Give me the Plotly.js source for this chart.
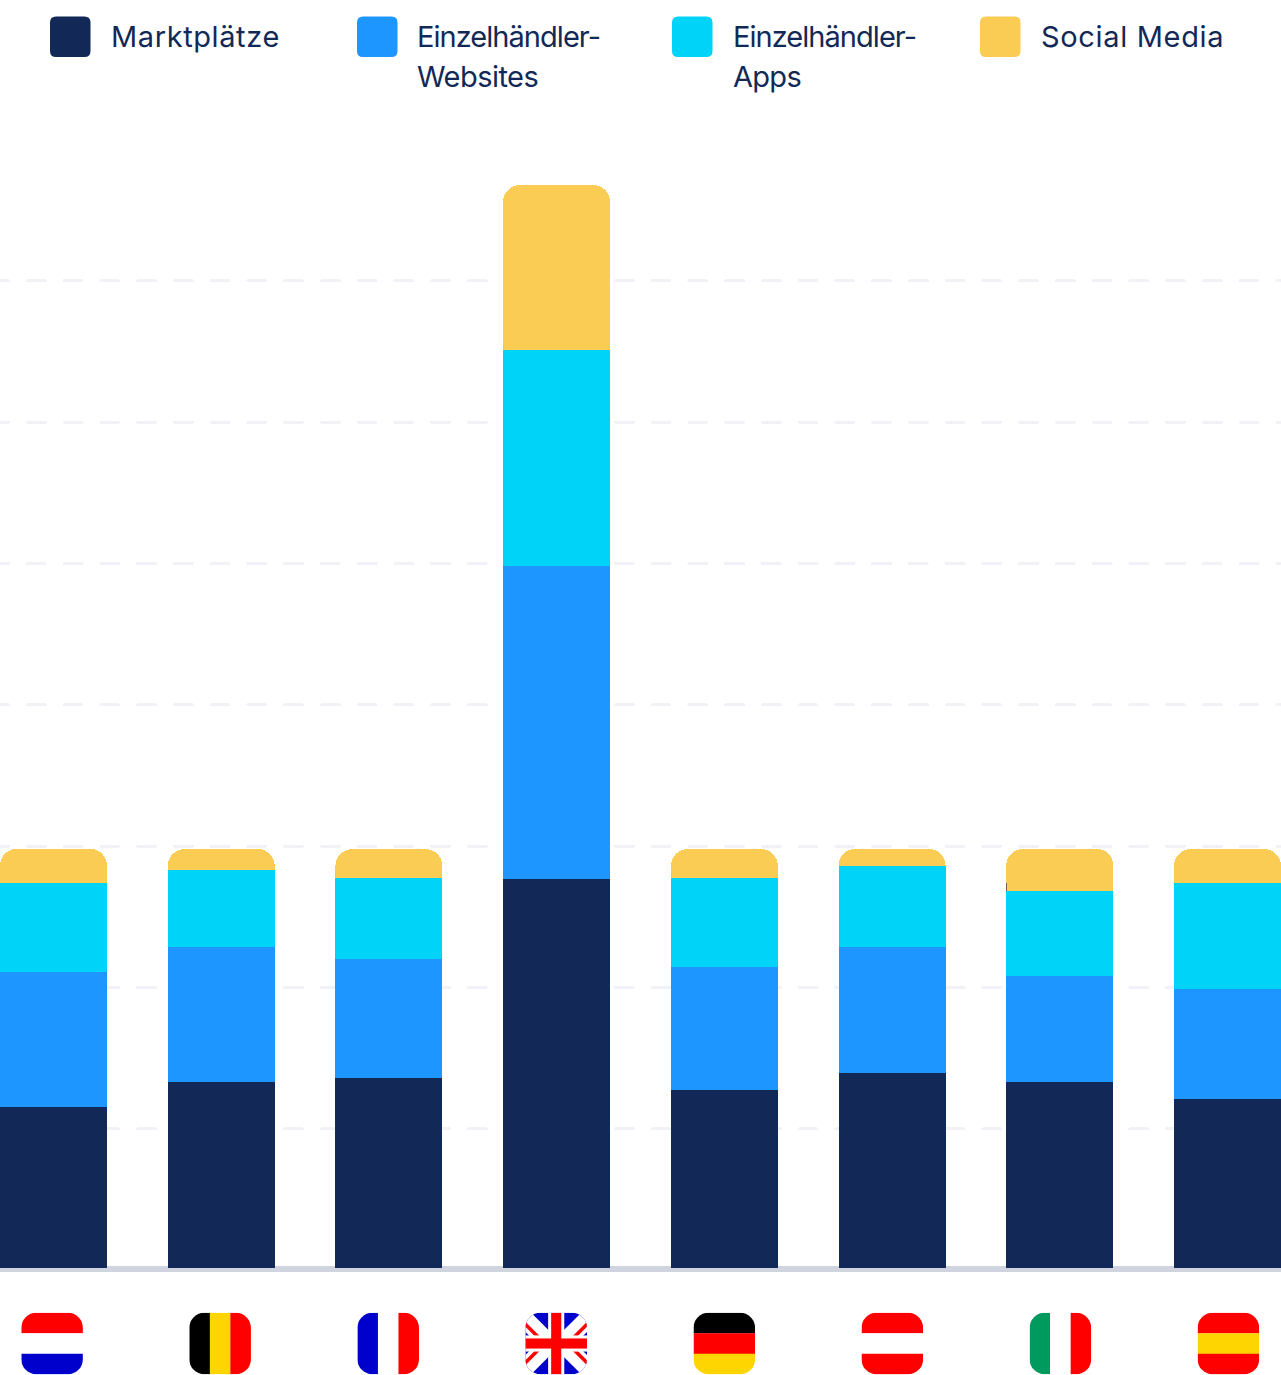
<!DOCTYPE html>
<html lang="de">
<head>
<meta charset="utf-8">
<title>Marktplätze, Einzelhändler-Websites, Einzelhändler-Apps und Social Media</title>
<script src="https://cdn.plot.ly/plotly-3.0.1.min.js"></script>
<style>
  html, body { margin: 0; padding: 0; background: #ffffff; }
  #chart { width: 1281px; height: 1375px; }
  .gridlayer path { stroke-linecap: round; }
</style>
</head>
<body>
<div id="chart"></div>
<script>
// Countries, left to right
const countries = ['Niederlande', 'Belgien', 'Frankreich', 'Vereinigtes Königreich',
                   'Deutschland', 'Österreich', 'Italien', 'Spanien'];

// Stacked channel values per country
const marktplaetze    = [5.70, 6.58, 6.72, 13.76, 6.30, 6.90, 6.58, 5.98];
const websites        = [4.78, 4.78, 4.21, 11.07, 4.35, 4.46, 3.75, 3.89];
const apps            = [3.15, 2.72, 2.85,  7.64, 3.13, 2.87, 3.01, 3.75];
const socialMedia     = [1.20, 0.74, 1.04,  5.84, 1.04, 0.60, 1.49, 1.20];

const seriesValues = [marktplaetze, websites, apps, socialMedia];
const seriesNames  = ['Marktplätze', 'Einzelhändler-Websites', 'Einzelhändler-Apps', 'Social Media'];
const seriesColors = ['#122958', '#1e96ff', '#00d3f8', '#facc53'];

// Legend labels split over lines, with swatch and text positions in page pixels
const legendLines    = [['Marktplätze'], ['Einzelhändler-', 'Websites'], ['Einzelhändler-', 'Apps'], ['Social Media']];
const legendTracking = [[0.6], [-0.96, -0.54], [-0.96, -0.7], [0.67]];
const legendSwatchX  = [50, 357, 672, 980];
const legendTextX    = [111, 417, 733, 1041];

// Horizontal guide lines
const gridValues = [4.92, 9.92, 14.92, 19.92, 24.92, 29.92, 34.92];

// Flag stripes: direction and colours, with the union flag drawn separately
const RED = '#ff0000', BLUE = '#0000cc', GOLD = '#ffd500', WHITE = '#ffffff', BLACK = '#000000', GREEN = '#009a5e';
const flagStripes = [
  ['h', RED, WHITE, BLUE],
  ['v', BLACK, GOLD, RED],
  ['v', BLUE, WHITE, RED],
  null,
  ['h', BLACK, RED, GOLD],
  ['h', RED, WHITE, RED],
  ['v', GREEN, WHITE, RED],
  ['h', RED, GOLD, RED]
];
const flagLeft = [21.3, 189.3, 357.4, 525.4, 693.5, 861.5, 1029.6, 1197.6];

// Page geometry
const PAGE_W = 1281, PAGE_H = 1375, BASELINE = 1268, PX_PER_UNIT = 28.27;
const FLAG_SIZE = 61.6, FLAG_TOP = 1312.7;

const paperX = px => px / PAGE_W;
const paperY = py => (BASELINE - py) / BASELINE;

function roundedPath(x, y, w, h, r) {
  const X = v => paperX(v), Y = v => paperY(v);
  return `M${X(x + r)},${Y(y)} L${X(x + w - r)},${Y(y)} Q${X(x + w)},${Y(y)} ${X(x + w)},${Y(y + r)} ` +
         `L${X(x + w)},${Y(y + h - r)} Q${X(x + w)},${Y(y + h)} ${X(x + w - r)},${Y(y + h)} ` +
         `L${X(x + r)},${Y(y + h)} Q${X(x)},${Y(y + h)} ${X(x)},${Y(y + h - r)} ` +
         `L${X(x)},${Y(y + r)} Q${X(x)},${Y(y)} ${X(x + r)},${Y(y)} Z`;
}

function unionFlagMarkup() {
  const quarter =
    `<rect width="30.5" height="30.5" fill="${BLUE}"/>` +
    `<polygon points="5.7,0 30.5,24.8 30.5,30.5 11.5,30.5 0,19 0,0" fill="${WHITE}"/>` +
    `<polygon points="0,9 21.5,30.5 16.5,30.5 0,14" fill="${RED}"/>`;
  const mirrored = ['translate(0,0)', 'translate(61,0) scale(-1,1)', 'translate(0,61) scale(1,-1)', 'translate(61,61) scale(-1,-1)']
    .map(t => `<g transform="${t}">${quarter}</g>`).join('');
  return mirrored +
    `<rect x="22.5" width="16" height="61" fill="${WHITE}"/><rect y="22.5" width="61" height="16" fill="${WHITE}"/>` +
    `<rect x="25.5" width="10" height="61" fill="${RED}"/><rect y="25.5" width="61" height="10" fill="${RED}"/>`;
}

function flagImage(spec) {
  const third = 61 / 3;
  const body = spec
    ? spec.slice(1).map((c, i) => spec[0] === 'h'
        ? `<rect y="${i * third}" width="61" height="${third + 0.2}" fill="${c}"/>`
        : `<rect x="${i * third}" width="${third + 0.2}" height="61" fill="${c}"/>`).join('')
    : unionFlagMarkup();
  const svg = `<svg xmlns="http://www.w3.org/2000/svg" width="61" height="61" viewBox="0 0 61 61">` +
    `<defs><clipPath id="c"><rect width="61" height="61" rx="15" ry="15"/></clipPath></defs>` +
    `<g clip-path="url(#c)">${body}</g></svg>`;
  return 'data:image/svg+xml;charset=utf-8,' + encodeURIComponent(svg);
}

const traces = seriesValues.map((values, i) => ({
  type: 'bar',
  name: seriesNames[i],
  x: countries,
  y: values,
  marker: { color: seriesColors[i], line: { width: 0 } },
  hovertemplate: '%{x}<br>' + seriesNames[i] + ': %{y}<extra></extra>'
}));

const shapes = [
  // Axis rule under the bars
  { type: 'rect', layer: 'below', xref: 'paper', yref: 'paper',
    x0: 0, x1: 1, y0: paperY(1272), y1: paperY(1266),
    fillcolor: '#cfd4de', line: { width: 0 } },
  // Thin dark edge on the Italian bar
  { type: 'rect', layer: 'above', xref: 'paper', yref: 'paper',
    x0: paperX(1006), x1: paperX(1007), y0: paperY(891), y1: paperY(883),
    fillcolor: '#75633f', line: { width: 0 } }
];
legendSwatchX.forEach((x, i) => shapes.push({
  type: 'path', xref: 'paper', yref: 'paper',
  path: roundedPath(x, 16.5, 40.5, 40.5, 6),
  fillcolor: seriesColors[i], line: { width: 0 }
}));

const annotations = [];
legendLines.forEach((lines, i) => lines.forEach((text, j) => annotations.push({
  text: `<span style="letter-spacing:${legendTracking[i][j]}px">${text}</span>`,
  xref: 'paper', yref: 'paper',
  x: paperX(legendTextX[i] - 2), y: paperY(36 + j * 41),
  xanchor: 'left', yanchor: 'middle', showarrow: false, align: 'left',
  font: { family: 'Inter, sans-serif', size: 29, color: '#122958' }
})));

const images = flagStripes.map((spec, i) => ({
  source: flagImage(spec), xref: 'paper', yref: 'paper', layer: 'above',
  x: paperX(flagLeft[i]), y: paperY(FLAG_TOP),
  sizex: FLAG_SIZE / PAGE_W, sizey: FLAG_SIZE / BASELINE,
  sizing: 'stretch', xanchor: 'left', yanchor: 'top'
}));

const layout = {
  width: PAGE_W, height: PAGE_H,
  margin: { l: 0, r: 0, t: 0, b: PAGE_H - BASELINE, pad: 0 },
  paper_bgcolor: '#ffffff', plot_bgcolor: '#ffffff',
  barmode: 'stack', bargap: 0.362, barcornerradius: 17,
  showlegend: false,
  xaxis: { type: 'category', range: [-0.319, 7.319], showgrid: false, zeroline: false,
           showline: false, ticks: '', showticklabels: false, fixedrange: true },
  yaxis: { range: [0, BASELINE / PX_PER_UNIT], tickmode: 'array', tickvals: gridValues,
           showgrid: true, gridcolor: '#f1f2f5', gridwidth: 3,
           griddash: '8.55px,18.75px,9.45px,0px',
           zeroline: false, showline: false, ticks: '', showticklabels: false, fixedrange: true },
  shapes, annotations, images
};

Plotly.newPlot('chart', traces, layout, { displayModeBar: false, responsive: false });
</script>
</body>
</html>
